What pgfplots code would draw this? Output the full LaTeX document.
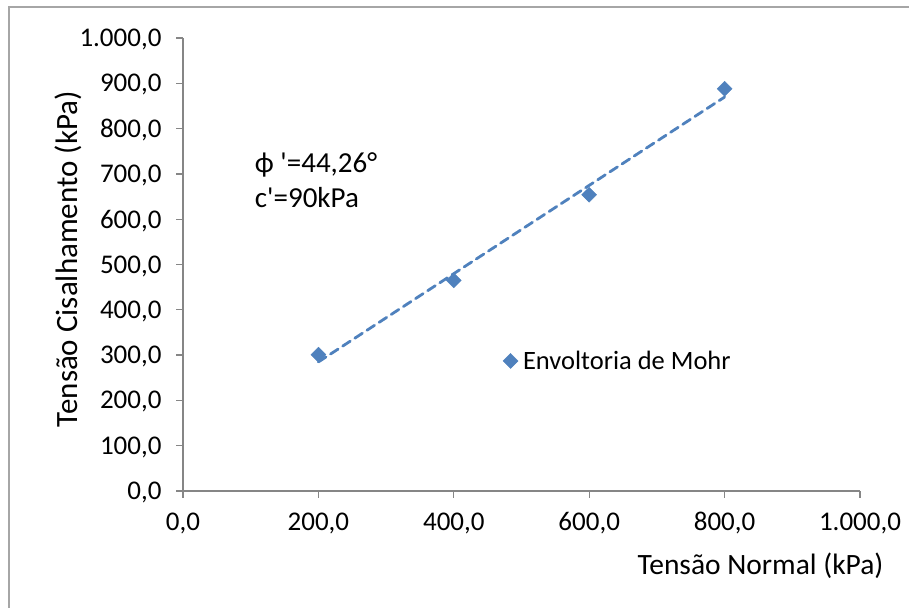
\documentclass[border=0pt]{standalone}
\usepackage{pgfplots}
\pgfplotsset{compat=1.18}
\usepackage{fontspec}
\setmainfont{Carlito}
\definecolor{mblue}{HTML}{4F81BD}
\definecolor{agray}{HTML}{868686}
\definecolor{bgray}{HTML}{A6A6A6}
\begin{document}
\begin{tikzpicture}
\useasboundingbox (0,0) rectangle (909bp,608bp);
\draw[bgray, line width=1.5bp] (9bp,0) -- (9bp,601bp) -- (909bp,601bp);
\begin{axis}[
  at={(183bp,117bp)}, anchor=south west, scale only axis,
  width=677bp, height=453bp,
  xmin=0, xmax=1000, ymin=0, ymax=1000,
  axis x line*=bottom, axis y line*=left,
  axis line style={agray, line width=1.3bp, -},
  xtick={0,200,...,1000}, ytick={0,100,...,1000},
  tick align=outside, major tick length=7bp,
  tick style={agray, line width=1.3bp},
  scaled ticks=false,
  /pgf/number format/fixed,
  /pgf/number format/fixed zerofill,
  /pgf/number format/precision=1,
  /pgf/number format/use comma,
  /pgf/number format/1000 sep={.},
  /pgf/number format/assume math mode=true,
  ticklabel style={font=\fontsize{27bp}{31bp}\selectfont},
  yticklabel style={xshift=-11bp, yshift=-1.5bp},
  xticklabel style={yshift=-11bp},
  xlabel={Tensão Normal (kPa)},
  xlabel style={at={(axis description cs:0.853,-0.166)}, anchor=center, font=\fontsize{29.5bp}{34bp}\selectfont},
  ylabel={Tensão Cisalhamento (kPa)},
  ylabel style={at={(axis description cs:-0.170,0.512)}, anchor=center, rotate=0, font=\fontsize{31bp}{36bp}\selectfont},
  legend style={draw=none, fill=none, at={(axis description cs:0.468,0.287)}, anchor=west, font=\fontsize{26.5bp}{30bp}\selectfont, /tikz/every even column/.append style={column sep=2bp}},
  legend cell align=left,
  clip=false,
]
\addplot[mblue, line width=2.8bp, dash pattern=on 9bp off 5.5bp, line cap=round, forget plot] coordinates {(200,284.9) (800,869.6)};
\addplot[only marks, mark=square*, mark size=5.3bp, mark options={rotate=45, fill=mblue, draw=mblue}] coordinates {(200,301) (400,465) (600,654) (800,888)};
\addlegendentry{\hspace{3bp}Envoltoria de Mohr}
\node[anchor=west, inner sep=0, font=\fontsize{29bp}{34bp}\selectfont] at (axis cs:106,720) {ϕ \textquotesingle=44,26°};
\node[anchor=west, inner sep=0, font=\fontsize{29bp}{34bp}\selectfont] at (axis cs:106,647) {c\textquotesingle=90kPa};
\end{axis}
\end{tikzpicture}
\end{document}
